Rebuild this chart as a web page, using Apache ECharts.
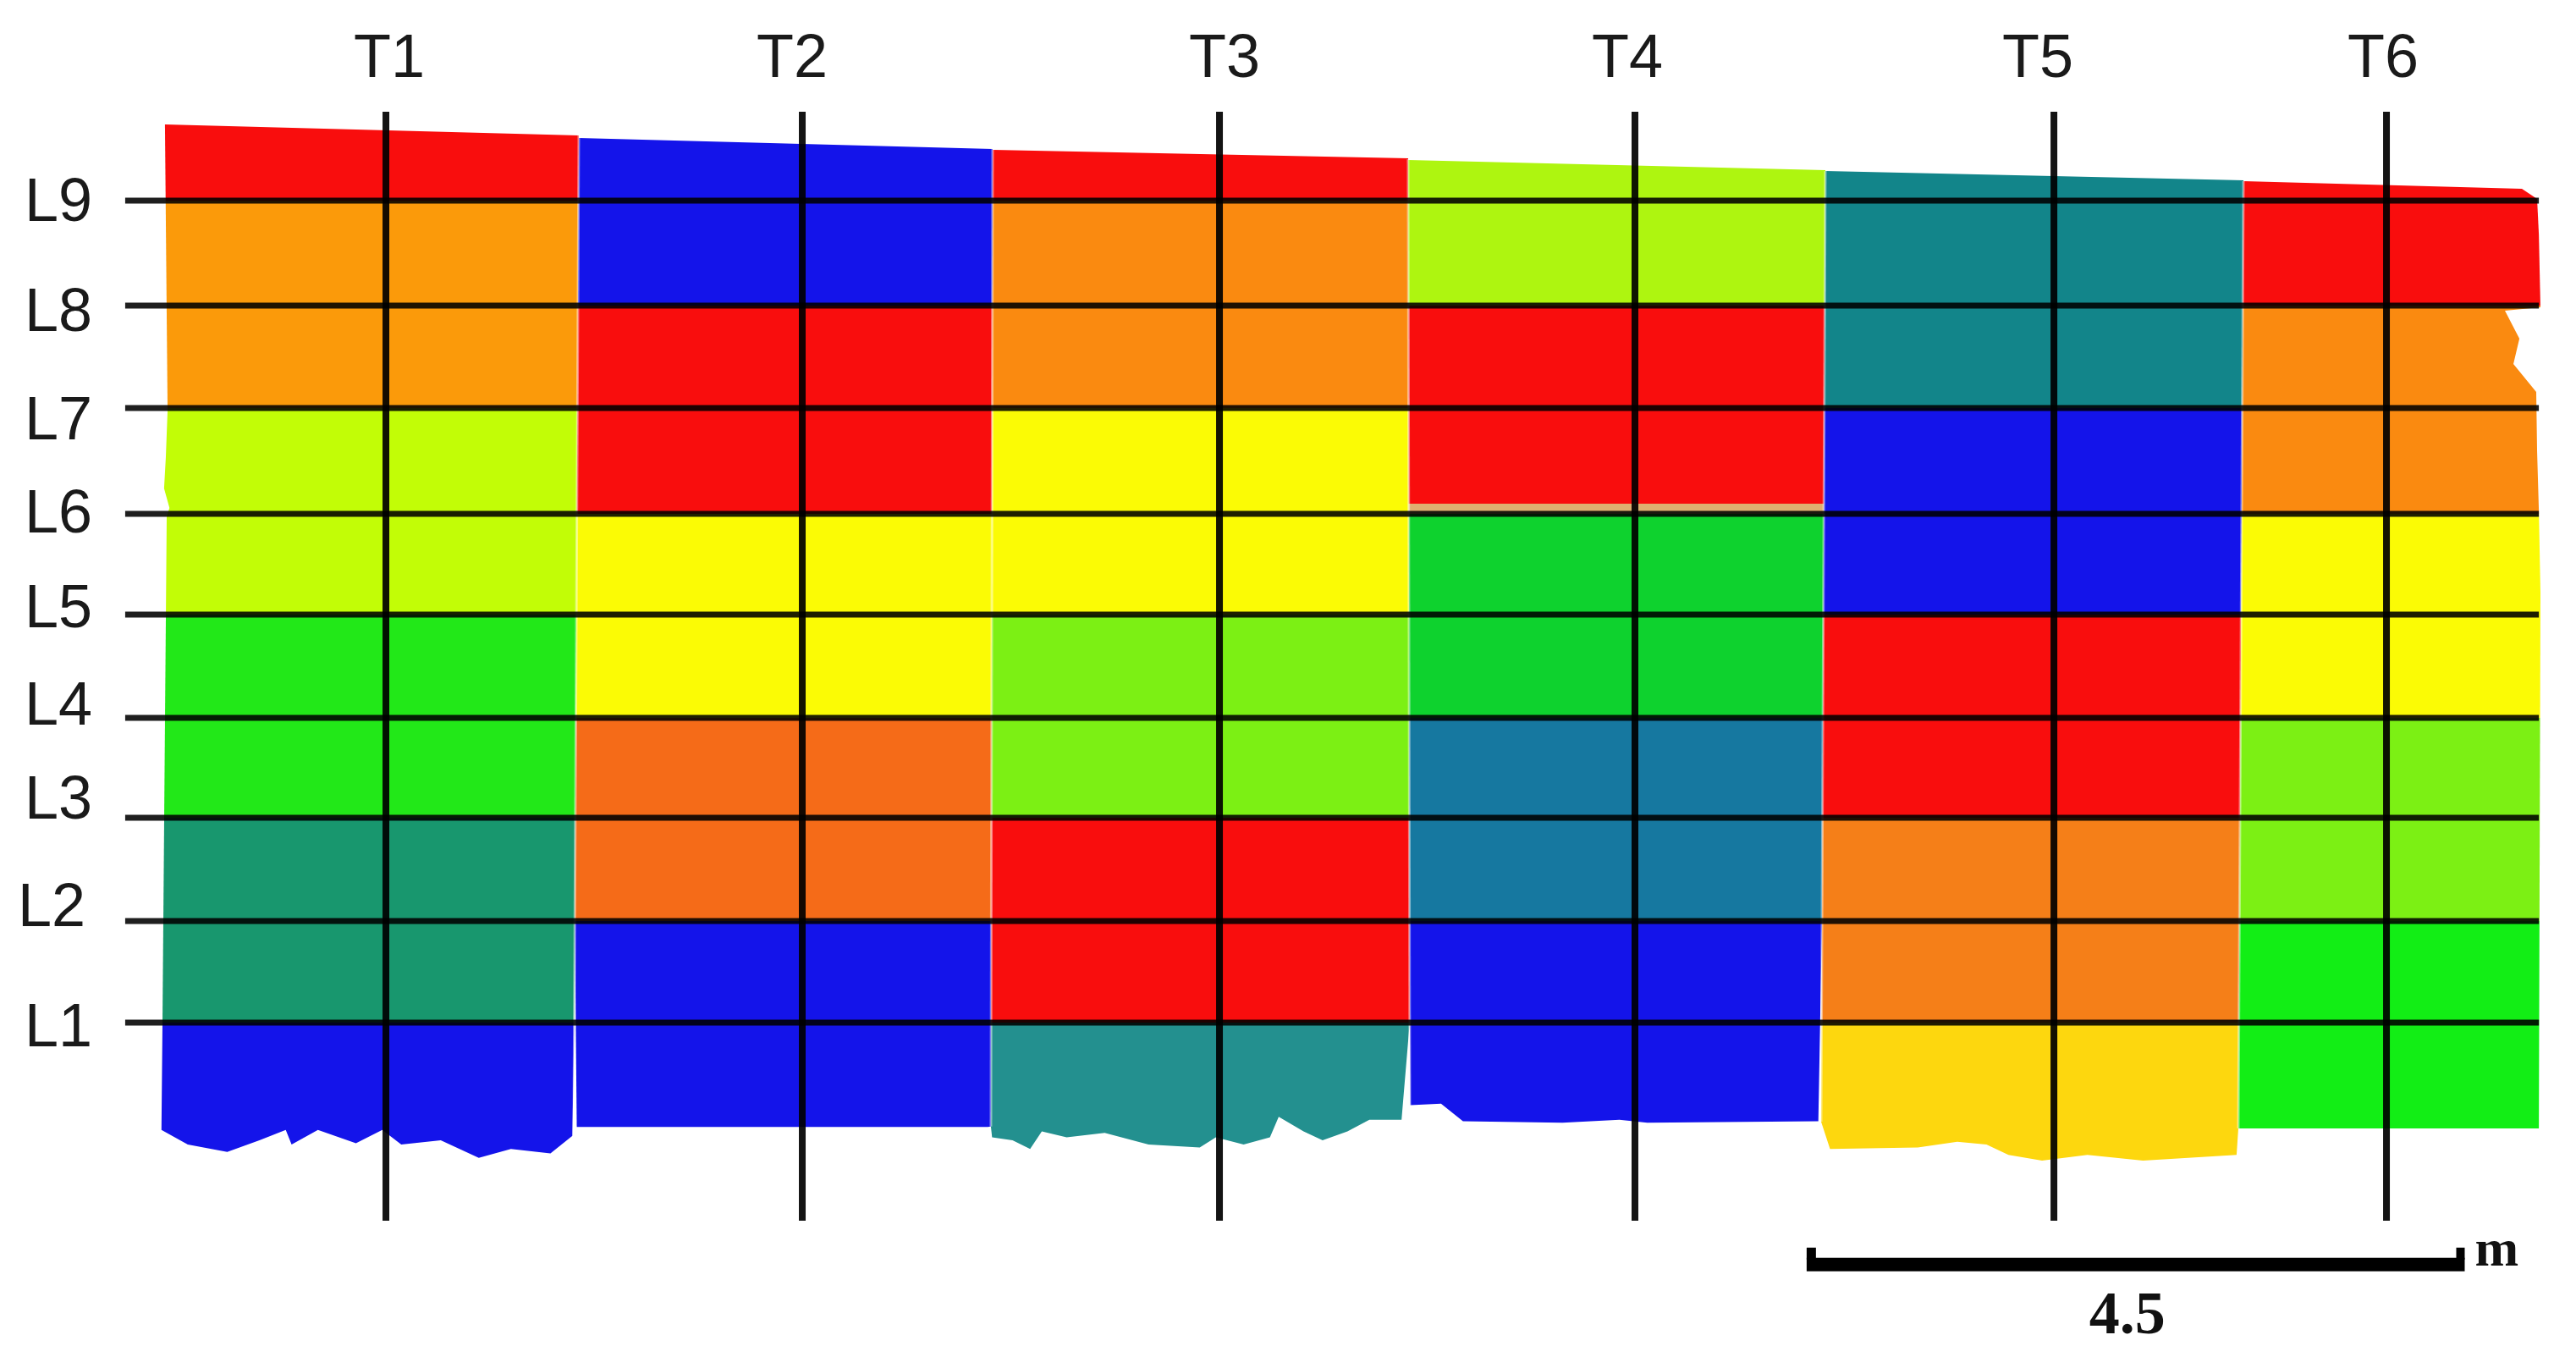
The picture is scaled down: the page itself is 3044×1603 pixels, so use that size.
<!DOCTYPE html>
<html>
<head>
<meta charset="utf-8" />
<title>Wall zones</title>
<style>
  html, body { margin: 0; padding: 0; background: #fff; }
  #container { width: 3044px; height: 1603px; }
</style>
<script src="https://cdn.jsdelivr.net/npm/echarts@6/dist/echarts.min.js"></script>
</head>
<body>
<div id="container"></div>
<script>
// all positions in metres along the wall
const traverseNames = ["T1", "T2", "T3", "T4", "T5", "T6"];
const traverseX = [1.505, 4.352, 7.205, 10.046, 12.911, 15.185];
const levelNames = ["L1", "L2", "L3", "L4", "L5", "L6", "L7", "L8", "L9"];
const levelY = [1.354, 2.049, 2.755, 3.437, 4.144, 4.832, 5.556, 6.256, 6.973];
const traverseFrom = 0;
const traverseTo = 7.581;
const levelFrom = -0.278;
const levelTo = 16.227;

// vertical borders of the six columns, listed from top to bottom
const columnBorders = [
  [[-0.006, 7.494], [0.012, 5.538], [0, 5.22], [-0.012, 5.006], [0.025, 4.873], [0.006, 4.815], [-0.029, 0.619]],
  [[2.824, 7.419], [2.789, 0.579]],
  [[5.654, 7.326], [5.642, 0.643]],
  [[8.495, 7.257], [8.507, 0.648]],
  [[11.348, 7.176], [11.319, 0.677]],
  [[14.207, 7.106], [14.172, 0.631]],
  [[16.215, 6.985], [16.227, 6.742], [16.238, 6.244], [15.995, 6.221], [16.094, 6.03], [16.053, 5.856],
   [16.209, 5.665], [16.215, 5.26], [16.227, 4.855], [16.238, 4.294], [16.227, 0.631]],
];
const topEdges = [
  [[-0.006, 7.494], [2.824, 7.419]],
  [[2.824, 7.402], [5.654, 7.326]],
  [[5.654, 7.321], [8.495, 7.263]],
  [[8.495, 7.251], [11.348, 7.182]],
  [[11.348, 7.176], [14.207, 7.112]],
  [[14.207, 7.106], [16.111, 7.054], [16.215, 6.985]],
];
const bottomEdges = [
  [[-0.03, 0.62], [0.15, 0.52], [0.42, 0.47], [0.64, 0.55], [0.82, 0.62], [0.86, 0.52], [1.04, 0.62], [1.3, 0.53],
   [1.48, 0.62], [1.61, 0.52], [1.88, 0.55], [2.14, 0.43], [2.36, 0.49], [2.63, 0.46], [2.78, 0.58]],
  [[2.81, 0.64], [5.62, 0.64]],
  [[5.65, 0.57], [5.79, 0.55], [5.91, 0.49], [5.99, 0.61], [6.16, 0.57], [6.42, 0.6], [6.72, 0.52], [7.07, 0.5],
   [7.18, 0.57], [7.37, 0.52], [7.55, 0.57], [7.61, 0.71], [7.78, 0.61], [7.91, 0.55], [8.08, 0.61], [8.23, 0.69], [8.45, 0.69]],
  [[8.51, 0.79], [8.72, 0.8], [8.87, 0.68], [9.55, 0.67], [9.94, 0.69], [10.13, 0.67], [11.3, 0.68]],
  [[11.38, 0.49], [11.98, 0.5], [12.25, 0.54], [12.45, 0.52], [12.6, 0.45], [12.83, 0.41], [13.14, 0.45], [13.52, 0.41], [14.16, 0.45]],
  [[14.19, 0.63], [16.23, 0.63]],
];
// zones of each column, top to bottom, and the heights where one zone ends
const columnZones = [
  ["red", "amber", "lime", "green", "seagreen", "blue"],
  ["blue", "red", "yellow", "vermilion", "blue"],
  ["red", "orange", "yellow", "chartreuse", "red", "teal"],
  ["lime2", "red", "tan", "emerald", "steel", "blue"],
  ["teal2", "blue", "red", "orange2", "gold"],
  ["red", "orange", "yellow", "chartreuse", "green2"],
];
const columnBreaks = [
  [6.973, 5.556, 4.144, 2.755, 1.354],
  [6.256, 4.832, 3.437, 2.049],
  [6.973, 5.556, 4.144, 2.755, 1.354],
  [6.256, 4.902, 4.832, 3.437, 2.049],
  [5.556, 4.144, 2.755, 1.354],
  [6.256, 4.832, 3.437, 2.049],
];
const zoneColors = {
  red: "#f90d0d",
  blue: "#1414ea",
  amber: "#fb9a0a",
  orange: "#fa8a10",
  orange2: "#f57f18",
  vermilion: "#f56b18",
  yellow: "#fbfb05",
  gold: "#fdd70e",
  lime: "#c2fd06",
  lime2: "#aef510",
  chartreuse: "#7cf014",
  green: "#22e818",
  green2: "#12ee15",
  emerald: "#0ed22e",
  seagreen: "#18976e",
  teal: "#23908f",
  teal2: "#12858a",
  steel: "#1678a0",
  tan: "#dfb070",
};
const scaleBarStart = 11.22;
const scaleBarLength = 4.5;
const scaleBarY = -0.3;

// layout, in pixels
const traverseLabelNudge = [4, -12, 6, -9, -19, -4];
const levelLabelNudge = [8, -14, -19, -12, -5, 2, 17, 10, 4];
const levelLabelX = [29, 21, 29, 29, 29, 29, 29, 29, 29];
const traverseLabelY = 71;
const labelFont = '72px "Liberation Sans"';

let cells = [];
traverseNames.forEach(function (name, c) {
  columnZones[c].forEach(function (zone, b) {
    cells.push({ column: c, band: b, zone: zone });
  });
});

function borderX(border, y) {
  for (let i = 0; i < border.length - 1; i++) {
    let p = border[i];
    let q = border[i + 1];
    if (y <= p[1] && y >= q[1]) {
      return p[0] + ((q[0] - p[0]) * (p[1] - y)) / (p[1] - q[1]);
    }
  }
  return y > border[0][1] ? border[0][0] : border[border.length - 1][0];
}

function cellPoints(cell) {
  let c = cell.column;
  let b = cell.band;
  let left = columnBorders[c];
  let right = columnBorders[c + 1];
  let breaks = columnBreaks[c];
  let isTop = b === 0;
  let isBottom = b === breaks.length;
  let pts = [];
  let topL = isTop ? topEdges[c][0][1] : breaks[b - 1];
  let topR = isTop ? topEdges[c][topEdges[c].length - 1][1] : breaks[b - 1];
  let bottomY = isBottom ? bottomEdges[c][bottomEdges[c].length - 1][1] : breaks[b];
  let bottomYL = isBottom ? bottomEdges[c][0][1] : breaks[b];
  if (isTop) {
    pts = pts.concat(topEdges[c]);
  } else {
    pts.push([borderX(left, topL), topL], [borderX(right, topR), topR]);
  }
  right.forEach(function (p) {
    if (p[1] < topR && p[1] > bottomY) pts.push(p);
  });
  if (isBottom) {
    pts = pts.concat(bottomEdges[c].slice().reverse());
  } else {
    pts.push([borderX(right, bottomY), bottomY], [borderX(left, bottomYL), bottomYL]);
  }
  left.slice().reverse().forEach(function (p) {
    if (p[1] < topL && p[1] > bottomYL) pts.push(p);
  });
  return pts;
}

let dom = document.getElementById("container");
let myChart = echarts.init(dom, null, { renderer: "canvas" });

let option = {
  animation: false,
  backgroundColor: "#ffffff",
  grid: { left: 0, right: 0, top: 0, bottom: 0 },
  xAxis: { type: "value", min: -1.134, max: 16.481, show: false },
  yAxis: { type: "value", min: -0.932, max: 8.345, show: false },
  series: [
    {
      type: "custom",
      name: "zones",
      silent: true,
      data: cells.map(function (c, i) { return [i]; }),
      renderItem: function (params, api) {
        let cell = cells[params.dataIndex];
        return {
          type: "polygon",
          shape: { points: cellPoints(cell).map(function (p) { return api.coord(p); }) },
          style: { fill: zoneColors[cell.zone] },
        };
      },
    },
    {
      type: "custom",
      name: "column borders",
      silent: true,
      data: [[1], [2], [3], [4], [5]],
      renderItem: function (params, api) {
        let b = columnBorders[params.dataIndex + 1];
        return {
          type: "polyline",
          shape: { points: b.map(function (p) { return api.coord(p); }) },
          style: { fill: null, stroke: "rgba(255,255,255,0.45)", lineWidth: 3 },
        };
      },
    },
    {
      type: "custom",
      name: "levels",
      silent: true,
      data: levelY.map(function (y) { return [y]; }),
      renderItem: function (params, api) {
        let y = api.value(0);
        let a = api.coord([levelFrom, y]);
        let b = api.coord([levelTo, y]);
        return {
          type: "line",
          shape: { x1: a[0], y1: a[1], x2: b[0], y2: b[1] },
          style: { stroke: "rgba(0,0,0,0.88)", lineWidth: 7 },
        };
      },
    },
    {
      type: "custom",
      name: "traverses",
      silent: true,
      data: traverseX.map(function (x) { return [x]; }),
      renderItem: function (params, api) {
        let x = api.value(0);
        let a = api.coord([x, traverseTo]);
        let b = api.coord([x, traverseFrom]);
        return {
          type: "line",
          shape: { x1: a[0], y1: a[1], x2: b[0], y2: b[1] },
          style: { stroke: "rgba(0,0,0,0.92)", lineWidth: 8 },
        };
      },
    },
    {
      type: "custom",
      name: "traverse labels",
      silent: true,
      data: traverseX.map(function (x) { return [x]; }),
      renderItem: function (params, api) {
        let i = params.dataIndex;
        let p = api.coord([api.value(0), 0]);
        return {
          type: "text",
          style: {
            x: p[0] + traverseLabelNudge[i],
            y: traverseLabelY,
            text: traverseNames[i],
            font: labelFont,
            fill: "#1a1a1a",
            textAlign: "center",
            textVerticalAlign: "middle",
          },
        };
      },
    },
    {
      type: "custom",
      name: "level labels",
      silent: true,
      data: levelY.map(function (y) { return [0, y]; }),
      renderItem: function (params, api) {
        let i = params.dataIndex;
        let p = api.coord([0, api.value(1)]);
        return {
          type: "text",
          style: {
            x: levelLabelX[i],
            y: p[1] + levelLabelNudge[i],
            text: levelNames[i],
            font: labelFont,
            fill: "#1a1a1a",
            textAlign: "left",
            textVerticalAlign: "middle",
          },
        };
      },
    },
    {
      type: "custom",
      name: "scale bar",
      silent: true,
      data: [[scaleBarStart, scaleBarY]],
      renderItem: function (params, api) {
        let a = api.coord([scaleBarStart, scaleBarY]);
        let b = api.coord([scaleBarStart + scaleBarLength, scaleBarY]);
        return {
          type: "group",
          children: [
            { type: "rect", shape: { x: a[0], y: a[1] - 8, width: b[0] - a[0], height: 16 }, style: { fill: "#000" } },
            { type: "rect", shape: { x: a[0], y: a[1] - 20, width: 11, height: 14 }, style: { fill: "#000" } },
            { type: "rect", shape: { x: b[0] - 10, y: a[1] - 20, width: 10, height: 14 }, style: { fill: "#000" } },
            {
              type: "text",
              style: {
                x: (a[0] + b[0]) / 2 - 10,
                y: a[1] + 63,
                text: String(scaleBarLength),
                font: 'bold 72px "Liberation Serif"',
                fill: "#111",
                textAlign: "center",
                textVerticalAlign: "middle",
              },
            },
            {
              type: "text",
              style: {
                x: b[0] + 12,
                y: a[1] + 16,
                text: "m",
                font: 'bold 62px "Liberation Serif"',
                fill: "#111",
                textAlign: "left",
                textVerticalAlign: "bottom",
              },
            },
          ],
        };
      },
    },
  ],
};

myChart.setOption(option);
window.addEventListener("resize", myChart.resize);
</script>
</body>
</html>
